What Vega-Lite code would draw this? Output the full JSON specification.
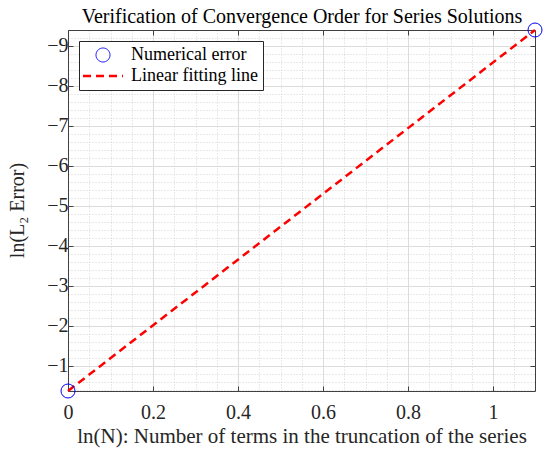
{
  "$schema": "https://vega.github.io/schema/vega-lite/v6.json",
  "width": 467,
  "height": 361,
  "autosize": "none",
  "padding": {"left": 68, "top": 30, "right": 15, "bottom": 62},
  "background": "white",
  "config": {
    "view": {"stroke": null},
    "axis": {
      "labelFont": "Liberation Serif",
      "titleFont": "Liberation Serif",
      "labelColor": "#262626",
      "titleColor": "#262626",
      "titleFontWeight": "normal",
      "domainColor": "#404040",
      "tickColor": "#404040"
    }
  },
  "data": {
    "values": [
      {"lnN": 0, "lnErr": -0.375, "series": "Numerical error"},
      {"lnN": 1.0986, "lnErr": -9.395, "series": "Numerical error"},
      {"lnN": 0, "lnErr": -0.375, "series": "Linear fitting line"},
      {"lnN": 1.0986, "lnErr": -9.395, "series": "Linear fitting line"}
    ]
  },
  "layer": [
    {
      "mark": {"type": "point", "opacity": 0},
      "encoding": {
        "x": {
          "field": "lnN",
          "type": "quantitative",
          "scale": {"domain": [0, 1.0986], "nice": false, "zero": false},
          "axis": {
            "orient": "bottom",
            "values": [0.05, 0.1, 0.15, 0.25, 0.3, 0.35, 0.45, 0.5, 0.55, 0.65, 0.7, 0.75, 0.85, 0.9, 0.95, 1.05],
            "grid": true,
            "gridColor": "#c8c8c8",
            "gridDash": [1, 2],
            "gridWidth": 0.8,
            "ticks": false,
            "labels": false,
            "domain": false,
            "title": null
          }
        },
        "y": {
          "field": "lnErr",
          "type": "quantitative",
          "scale": {"domain": [-0.375, -9.395], "nice": false, "zero": false},
          "axis": {
            "orient": "left",
            "values": [-0.4, -0.6, -0.8, -1.2, -1.4, -1.6, -1.8, -2.2, -2.4, -2.6, -2.8, -3.2, -3.4, -3.6, -3.8, -4.2, -4.4, -4.6, -4.8, -5.2, -5.4, -5.6, -5.8, -6.2, -6.4, -6.6, -6.8, -7.2, -7.4, -7.6, -7.8, -8.2, -8.4, -8.6, -8.8, -9.2],
            "grid": true,
            "gridColor": "#c8c8c8",
            "gridDash": [1, 2],
            "gridWidth": 0.8,
            "ticks": false,
            "labels": false,
            "domain": false,
            "title": null
          }
        }
      }
    },
    {
      "transform": [{"filter": "datum.series == 'Linear fitting line'"}],
      "mark": {"type": "line", "strokeDash": [8, 5], "strokeWidth": 2.5, "clip": false},
      "encoding": {
        "x": {
          "field": "lnN",
          "type": "quantitative",
          "axis": {
            "orient": "bottom",
            "values": [0, 0.2, 0.4, 0.6, 0.8, 1],
            "format": "~g",
            "grid": true,
            "gridColor": "#dcdcdc",
            "gridWidth": 1,
            "tickSize": -5,
            "labelFontSize": 20,
            "labelPadding": 16,
            "labelFlush": false,
            "domain": true,
            "title": "ln(N): Number of terms in the truncation of the series",
            "titleFontSize": 21,
            "titleBaseline": "alphabetic",
            "titleY": 51
          }
        },
        "y": {
          "field": "lnErr",
          "type": "quantitative",
          "axis": {
            "orient": "left",
            "values": [-1, -2, -3, -4, -5, -6, -7, -8, -9],
            "format": "d",
            "grid": true,
            "gridColor": "#dcdcdc",
            "gridWidth": 1,
            "tickSize": -5,
            "labelFontSize": 20,
            "labelPadding": 5,
            "labelFlush": false,
            "domain": true,
            "title": "ln(L₂ Error)",
            "titleFontSize": 20,
            "titleBaseline": "middle",
            "titleX": -51,
            "titleY": 180
          }
        },
        "color": {
          "field": "series",
          "type": "nominal",
          "scale": {"domain": ["Numerical error", "Linear fitting line"], "range": ["#0000ff", "#ff0000"]},
          "legend": {
            "title": null,
            "orient": "top-left",
            "offset": 11,
            "fillColor": "white",
            "strokeColor": "#262626",
            "padding": 5,
            "labelFont": "Liberation Serif",
            "labelFontSize": 18,
            "labelColor": "#000000",
            "labelOffset": 19,
            "symbolOffset": 10,
            "symbolSize": 1600,
            "rowPadding": 3,
            "encode": {
              "symbols": {
                "update": {
                  "shape": {"signal": "datum.value == 'Numerical error' ? 'circle' : 'stroke'"},
                  "size": {"signal": "datum.value == 'Numerical error' ? 196 : 1600"},
                  "fill": {"value": "transparent"},
                  "stroke": {"signal": "datum.value == 'Numerical error' ? '#0000ff' : '#ff0000'"},
                  "strokeWidth": {"signal": "datum.value == 'Numerical error' ? 1 : 2.5"},
                  "strokeDash": {"signal": "datum.value == 'Numerical error' ? [1, 0] : [8, 5]"},
                  "opacity": {"value": 1}
                }
              }
            }
          }
        }
      }
    },
    {
      "transform": [{"filter": "datum.series == 'Numerical error'"}],
      "mark": {"type": "point", "shape": "circle", "filled": false, "size": 196, "strokeWidth": 1, "opacity": 1, "clip": false},
      "encoding": {
        "x": {
          "field": "lnN",
          "type": "quantitative",
          "axis": {
            "orient": "top",
            "values": [0, 0.2, 0.4, 0.6, 0.8, 1],
            "grid": false,
            "tickSize": -5,
            "labels": false,
            "domain": true,
            "title": "Verification of Convergence Order for Series Solutions",
            "titleFontSize": 20,
            "titleColor": "#000000",
            "titleBaseline": "alphabetic",
            "titleX": 233.5,
            "titleY": -8,
            "titleAlign": "center"
          }
        },
        "y": {
          "field": "lnErr",
          "type": "quantitative",
          "axis": {
            "orient": "right",
            "values": [-1, -2, -3, -4, -5, -6, -7, -8, -9],
            "grid": false,
            "tickSize": -5,
            "labels": false,
            "domain": true,
            "title": null
          }
        },
        "color": {"field": "series", "type": "nominal"}
      }
    }
  ],
  "resolve": {"axis": {"x": "independent", "y": "independent"}}
}
